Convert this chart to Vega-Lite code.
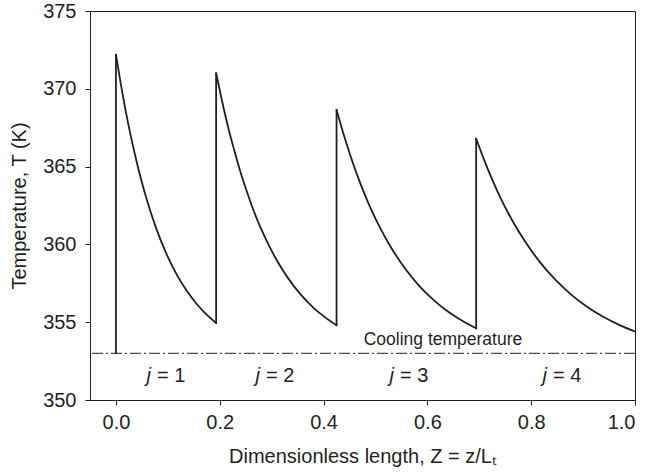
{
  "$schema": "https://vega.github.io/schema/vega-lite/v6.json",
  "width": 545,
  "height": 389,
  "autosize": {"type": "none"},
  "padding": {"left": 90, "top": 11, "right": 14, "bottom": 75},
  "background": "white",
  "config": {
    "font": "Liberation Sans",
    "view": {"stroke": "#231f20", "strokeWidth": 1},
    "axis": {
      "grid": false,
      "domainColor": "#231f20",
      "domainWidth": 1,
      "tickColor": "#231f20",
      "tickWidth": 1,
      "tickSize": 5,
      "labelColor": "#231f20",
      "titleColor": "#231f20",
      "labelFontSize": 20,
      "titleFontSize": 20,
      "titleFontWeight": "normal",
      "labelFont": "Liberation Sans",
      "titleFont": "Liberation Sans"
    }
  },
  "datasets": {
    "curve": [
      {"seg": 1, "Z": 0.0, "T": 372.2},
      {"seg": 1, "Z": 0.00965, "T": 370.25},
      {"seg": 1, "Z": 0.0193, "T": 368.49},
      {"seg": 1, "Z": 0.02895, "T": 366.91},
      {"seg": 1, "Z": 0.0386, "T": 365.49},
      {"seg": 1, "Z": 0.04825, "T": 364.2},
      {"seg": 1, "Z": 0.0579, "T": 363.04},
      {"seg": 1, "Z": 0.0772, "T": 361.06},
      {"seg": 1, "Z": 0.0965, "T": 359.45},
      {"seg": 1, "Z": 0.1158, "T": 358.14},
      {"seg": 1, "Z": 0.1351, "T": 357.08},
      {"seg": 1, "Z": 0.1544, "T": 356.22},
      {"seg": 1, "Z": 0.1737, "T": 355.52},
      {"seg": 1, "Z": 0.193, "T": 354.95},
      {"seg": 2, "Z": 0.193, "T": 371.0},
      {"seg": 2, "Z": 0.2046, "T": 369.18},
      {"seg": 2, "Z": 0.2162, "T": 367.52},
      {"seg": 2, "Z": 0.2278, "T": 366.06},
      {"seg": 2, "Z": 0.2394, "T": 364.7},
      {"seg": 2, "Z": 0.251, "T": 363.52},
      {"seg": 2, "Z": 0.2626, "T": 362.4},
      {"seg": 2, "Z": 0.2858, "T": 360.54},
      {"seg": 2, "Z": 0.309, "T": 359.03},
      {"seg": 2, "Z": 0.3322, "T": 357.8},
      {"seg": 2, "Z": 0.3554, "T": 356.8},
      {"seg": 2, "Z": 0.3786, "T": 355.99},
      {"seg": 2, "Z": 0.4018, "T": 355.34},
      {"seg": 2, "Z": 0.425, "T": 354.8},
      {"seg": 3, "Z": 0.425, "T": 368.65},
      {"seg": 3, "Z": 0.43845, "T": 367.09},
      {"seg": 3, "Z": 0.4519, "T": 365.68},
      {"seg": 3, "Z": 0.46535, "T": 364.4},
      {"seg": 3, "Z": 0.4788, "T": 363.25},
      {"seg": 3, "Z": 0.49225, "T": 362.21},
      {"seg": 3, "Z": 0.5057, "T": 361.27},
      {"seg": 3, "Z": 0.5326, "T": 359.66},
      {"seg": 3, "Z": 0.5595, "T": 358.34},
      {"seg": 3, "Z": 0.5864, "T": 357.26},
      {"seg": 3, "Z": 0.6133, "T": 356.39},
      {"seg": 3, "Z": 0.6402, "T": 355.67},
      {"seg": 3, "Z": 0.6671, "T": 355.09},
      {"seg": 3, "Z": 0.694, "T": 354.61},
      {"seg": 4, "Z": 0.694, "T": 366.8},
      {"seg": 4, "Z": 0.7093, "T": 365.43},
      {"seg": 4, "Z": 0.7246, "T": 364.19},
      {"seg": 4, "Z": 0.7399, "T": 363.06},
      {"seg": 4, "Z": 0.7552, "T": 362.05},
      {"seg": 4, "Z": 0.7705, "T": 361.13},
      {"seg": 4, "Z": 0.7858, "T": 360.31},
      {"seg": 4, "Z": 0.8164, "T": 358.88},
      {"seg": 4, "Z": 0.847, "T": 357.72},
      {"seg": 4, "Z": 0.8776, "T": 356.76},
      {"seg": 4, "Z": 0.9082, "T": 355.98},
      {"seg": 4, "Z": 0.9388, "T": 355.35},
      {"seg": 4, "Z": 0.9694, "T": 354.83},
      {"seg": 4, "Z": 1.0, "T": 354.4}
    ],
    "jumps": [
      {"Z": 0.0, "Tlow": 353.0, "Thigh": 372.2},
      {"Z": 0.193, "Tlow": 354.95, "Thigh": 371.0},
      {"Z": 0.425, "Tlow": 354.8, "Thigh": 368.65},
      {"Z": 0.694, "Tlow": 354.61, "Thigh": 366.8}
    ],
    "cooling": [
      {"T": 353.0}
    ],
    "jlabels": [
      {"Z": 0.0713, "T": 351.55, "rest": "= 1"},
      {"Z": 0.2813, "T": 351.55, "rest": "= 2"},
      {"Z": 0.5395, "T": 351.55, "rest": "= 3"},
      {"Z": 0.8343, "T": 351.55, "rest": "= 4"}
    ],
    "notes": [
      {"Z": 0.63, "T": 353.86, "label": "Cooling temperature"}
    ]
  },
  "layer": [
    {
      "data": {"name": "curve"},
      "mark": {"type": "line", "color": "#231f20", "strokeWidth": 1.8, "interpolate": "monotone", "strokeCap": "round", "clip": true},
      "encoding": {
        "x": {
          "field": "Z",
          "type": "quantitative",
          "scale": {"domain": [-0.05, 1.0], "nice": false, "zero": false},
          "axis": {
            "values": [0, 0.2, 0.4, 0.6, 0.8, 1.0],
            "format": ".1f",
            "labelPadding": 7,
            "titlePadding": 14,
            "title": "Dimensionless length, Z = z/Lₜ"
          }
        },
        "y": {
          "field": "T",
          "type": "quantitative",
          "scale": {"domain": [350, 375], "nice": false, "zero": false},
          "axis": {
            "values": [350, 355, 360, 365, 370, 375],
            "labelPadding": 9,
            "titlePadding": 13,
            "title": "Temperature, T (K)"
          }
        },
        "detail": {"field": "seg", "type": "nominal"}
      }
    },
    {
      "data": {"name": "jumps"},
      "mark": {"type": "rule", "color": "#231f20", "strokeWidth": 1.8, "strokeCap": "round"},
      "encoding": {
        "x": {"field": "Z", "type": "quantitative"},
        "y": {"field": "Tlow", "type": "quantitative"},
        "y2": {"field": "Thigh"}
      }
    },
    {
      "data": {"name": "cooling"},
      "mark": {"type": "rule", "color": "#231f20", "strokeWidth": 1, "strokeDash": [11, 3, 2, 3]},
      "encoding": {"y": {"field": "T", "type": "quantitative"}}
    },
    {
      "data": {"name": "notes"},
      "mark": {"type": "text", "fontSize": 17.5, "color": "#231f20", "align": "center", "baseline": "middle", "font": "Liberation Sans"},
      "encoding": {
        "x": {"field": "Z", "type": "quantitative"},
        "y": {"field": "T", "type": "quantitative"},
        "text": {"field": "label"}
      }
    },
    {
      "data": {"name": "jlabels"},
      "mark": {"type": "text", "fontSize": 20, "fontStyle": "italic", "color": "#231f20", "align": "right", "baseline": "middle", "dx": -2, "text": "j", "font": "Liberation Sans"},
      "encoding": {
        "x": {"field": "Z", "type": "quantitative"},
        "y": {"field": "T", "type": "quantitative"}
      }
    },
    {
      "data": {"name": "jlabels"},
      "mark": {"type": "text", "fontSize": 20, "color": "#231f20", "align": "left", "baseline": "middle", "dx": 4, "font": "Liberation Sans"},
      "encoding": {
        "x": {"field": "Z", "type": "quantitative"},
        "y": {"field": "T", "type": "quantitative"},
        "text": {"field": "rest"}
      }
    }
  ]
}
